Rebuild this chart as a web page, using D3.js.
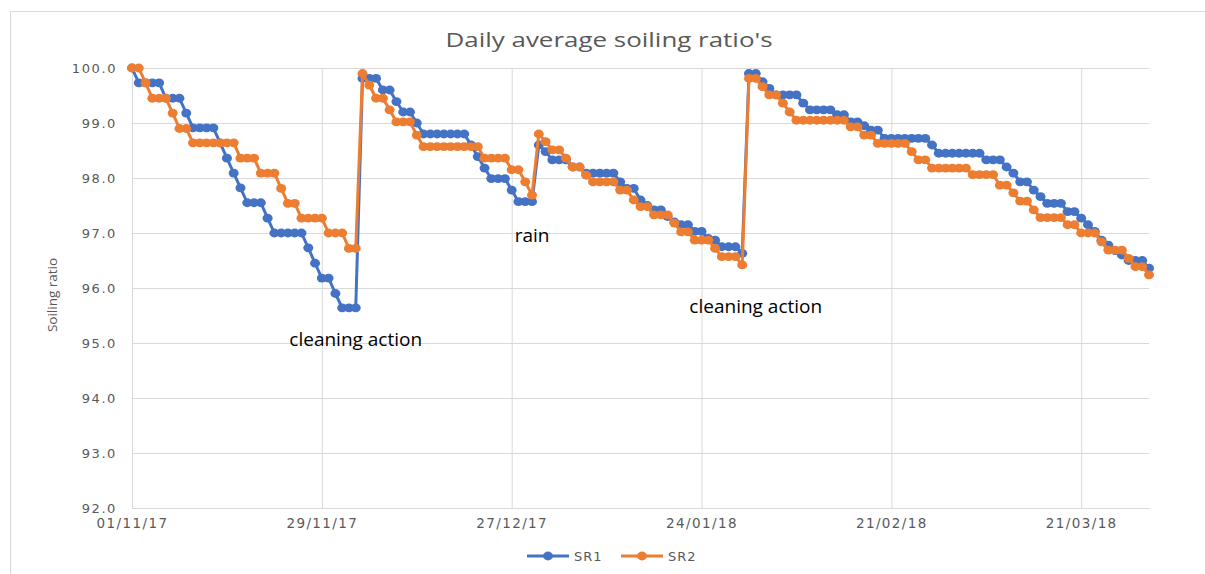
<!DOCTYPE html>
<html>
<head>
<meta charset="utf-8">
<script src="https://cdn.jsdelivr.net/npm/d3@7"></script>
<style>
  body { margin: 0; background: #fff; }
  svg { display: block; }
</style>
</head>
<body>
<div id="chart"></div>
<script>
// daily values, 01/11/17 .. 31/03/18 (151 days)
var startDate = "2017-11-01";

var sr1 = [
  100.0, 99.73, 99.73, 99.73, 99.73, 99.45, 99.45, 99.45, 99.18, 98.91,
  98.91, 98.91, 98.91, 98.64, 98.36, 98.09, 97.82, 97.55, 97.55, 97.55,
  97.27, 97.0, 97.0, 97.0, 97.0, 97.0, 96.73, 96.45, 96.18, 96.18,
  95.9, 95.64, 95.64, 95.64,
  99.81, 99.81, 99.81, 99.6, 99.6, 99.39, 99.2, 99.2, 99.0, 98.8,
  98.8, 98.8, 98.8, 98.8, 98.8, 98.8, 98.6, 98.39, 98.18, 97.99,
  97.99, 97.99, 97.78, 97.57, 97.57, 97.57,
  98.6, 98.48, 98.33, 98.33, 98.33, 98.2, 98.2, 98.09, 98.09, 98.09,
  98.09, 98.09, 97.93, 97.81, 97.81, 97.6, 97.5, 97.42, 97.42, 97.3,
  97.2, 97.15, 97.15, 97.03, 97.03, 96.9, 96.87, 96.75, 96.75, 96.75,
  96.63,
  99.9, 99.9, 99.75, 99.63, 99.51, 99.51, 99.51, 99.51, 99.36, 99.24,
  99.24, 99.24, 99.24, 99.15, 99.15, 99.02, 99.02, 98.95, 98.87, 98.87,
  98.72, 98.72, 98.72, 98.72, 98.72, 98.72, 98.72, 98.6, 98.45, 98.45,
  98.45, 98.45, 98.45, 98.45, 98.45, 98.33, 98.33, 98.33, 98.2, 98.09,
  97.93, 97.93, 97.78, 97.66, 97.54, 97.54, 97.54, 97.39, 97.39, 97.27,
  97.15, 97.03, 96.87, 96.78, 96.68, 96.6, 96.5, 96.5, 96.5, 96.36
];

var sr2 = [
  100.0, 100.0, 99.73, 99.45, 99.45, 99.45, 99.18, 98.9, 98.9, 98.64,
  98.64, 98.64, 98.64, 98.64, 98.64, 98.64, 98.36, 98.36, 98.36, 98.09,
  98.09, 98.09, 97.81, 97.54, 97.54, 97.27, 97.27, 97.27, 97.27, 97.0,
  97.0, 97.0, 96.72, 96.72,
  99.9, 99.69, 99.45, 99.45, 99.24, 99.02, 99.02, 99.02, 98.78, 98.57,
  98.57, 98.57, 98.57, 98.57, 98.57, 98.57, 98.57, 98.57, 98.36, 98.36,
  98.36, 98.36, 98.15, 98.15, 97.93, 97.69,
  98.8, 98.66, 98.51, 98.51, 98.36, 98.2, 98.2, 98.05, 97.93, 97.93,
  97.93, 97.93, 97.78, 97.78, 97.6, 97.48, 97.48, 97.33, 97.33, 97.33,
  97.18, 97.02, 97.02, 96.87, 96.87, 96.87, 96.72, 96.57, 96.57, 96.57,
  96.42,
  99.81, 99.81, 99.66, 99.51, 99.51, 99.36, 99.2, 99.05, 99.05, 99.05,
  99.05, 99.05, 99.05, 99.05, 99.05, 98.93, 98.93, 98.78, 98.78, 98.63,
  98.63, 98.63, 98.63, 98.63, 98.48, 98.33, 98.33, 98.18, 98.18, 98.18,
  98.18, 98.18, 98.18, 98.06, 98.06, 98.06, 98.06, 97.87, 97.87, 97.73,
  97.58, 97.58, 97.42, 97.28, 97.28, 97.28, 97.28, 97.15, 97.15, 97.0,
  97.0, 97.0, 96.84, 96.69, 96.69, 96.69, 96.54, 96.39, 96.39, 96.24
];

var seriesNames = ["SR1", "SR2"];
var seriesColors = ["#4472C4", "#ED7D31"];

var xTickDates = ["2017-11-01", "2017-11-29", "2017-12-27", "2018-01-24", "2018-02-21", "2018-03-21"];
var yTicks = [92, 93, 94, 95, 96, 97, 98, 99, 100];

var notes = [
  {text: "cleaning action", date: "2017-12-04", value: 95.07},
  {text: "rain", date: "2017-12-30", value: 96.96},
  {text: "cleaning action", date: "2018-02-01", value: 95.67}
];

var width = 1205, height = 574;
var margin = {left: 132, right: 56, top: 68, bottom: 66};

var parse = d3.utcParse("%Y-%m-%d");
var fmt = d3.utcFormat("%d/%m/%y");
var start = parse(startDate);

var svg = d3.select("#chart").append("svg")
  .attr("width", width)
  .attr("height", height);

svg.append("rect")
  .attr("x", 10.5).attr("y", 11.5)
  .attr("width", 1200).attr("height", 570)
  .attr("fill", "#fff")
  .attr("stroke", "#d9d9d9");

var x = d3.scaleUtc()
  .domain([start, d3.utcDay.offset(start, sr1.length - 1)])
  .range([margin.left, width - margin.right]);

var y = d3.scaleLinear()
  .domain([92, 100])
  .range([height - margin.bottom, margin.top]);

// gridlines
svg.append("g")
  .attr("transform", "translate(" + margin.left + ",0)")
  .call(d3.axisLeft(y).tickValues(yTicks).tickSize(-(width - margin.left - margin.right)).tickFormat(""))
  .call(function (g) { g.select(".domain").remove(); })
  .selectAll("line").attr("stroke", "#d9d9d9");

svg.append("g")
  .attr("transform", "translate(0," + margin.top + ")")
  .call(d3.axisBottom(x).tickValues(xTickDates.map(parse)).tickSize(height - margin.top - margin.bottom).tickFormat(""))
  .call(function (g) { g.select(".domain").remove(); })
  .selectAll("line").attr("stroke", "#d9d9d9");

// axis labels
var tickFont = "'DejaVu Sans', sans-serif";

var yAxis = svg.append("g")
  .attr("transform", "translate(" + margin.left + ",0)")
  .call(d3.axisLeft(y).tickValues(yTicks).tickSize(0).tickPadding(15).tickFormat(d3.format(".1f")));
yAxis.select(".domain").remove();
yAxis.selectAll("text")
  .attr("fill", "#595959")
  .style("font-family", tickFont)
  .style("font-size", "13px")
  .style("letter-spacing", "1.6px");

var xAxis = svg.append("g")
  .attr("transform", "translate(0," + (height - margin.bottom) + ")")
  .call(d3.axisBottom(x).tickValues(xTickDates.map(parse)).tickSize(0).tickPadding(10).tickFormat(fmt));
xAxis.select(".domain").attr("stroke", "#d9d9d9");
xAxis.selectAll("text")
  .attr("fill", "#595959")
  .style("font-family", tickFont)
  .style("font-size", "13.5px")
  .style("letter-spacing", "1.4px");

svg.append("text")
  .attr("transform", "translate(57," + 295 + ") rotate(-90)")
  .attr("text-anchor", "middle")
  .attr("fill", "#595959")
  .style("font-family", "'Open Sans', sans-serif")
  .style("font-size", "13.5px")
  .text("Soiling ratio");

svg.append("text")
  .attr("transform", "translate(609,47) scale(1.33,1)")
  .attr("text-anchor", "middle")
  .attr("fill", "#595959")
  .style("font-family", "'Open Sans', sans-serif")
  .style("font-size", "19.5px")
  .text("Daily average soiling ratio's");

// series
var line = d3.line()
  .x(function (d, i) { return x(d3.utcDay.offset(start, i)); })
  .y(function (d) { return y(d); });

[sr1, sr2].forEach(function (vals, k) {
  var g = svg.append("g");
  g.append("path")
    .datum(vals)
    .attr("d", line)
    .attr("fill", "none")
    .attr("stroke", seriesColors[k])
    .attr("stroke-width", 3)
    .attr("stroke-linejoin", "round");
  g.selectAll("ellipse")
    .data(vals)
    .enter().append("ellipse")
    .attr("cx", function (d, i) { return x(d3.utcDay.offset(start, i)); })
    .attr("cy", function (d) { return y(d); })
    .attr("rx", 5)
    .attr("ry", 4.4)
    .attr("fill", seriesColors[k]);
});

// annotations
svg.selectAll(".note")
  .data(notes)
  .enter().append("text")
  .attr("class", "note")
  .attr("x", function (d) { return x(parse(d.date)); })
  .attr("y", function (d) { return y(d.value); })
  .attr("dy", "0.35em")
  .attr("text-anchor", "middle")
  .attr("fill", "#000")
  .style("font-family", "'Open Sans', sans-serif")
  .style("font-size", "19px")
  .text(function (d) { return d.text; });

// legend
var legend = svg.append("g").attr("transform", "translate(0,556)");
var legendX = [527, 621];
seriesNames.forEach(function (name, k) {
  var lg = legend.append("g").attr("transform", "translate(" + legendX[k] + ",0)");
  lg.append("line").attr("x1", 0).attr("x2", 42).attr("y1", 0).attr("y2", 0)
    .attr("stroke", seriesColors[k]).attr("stroke-width", 3);
  lg.append("ellipse").attr("cx", 21).attr("cy", 0).attr("rx", 5).attr("ry", 4.4).attr("fill", seriesColors[k]);
  lg.append("text").attr("x", 47).attr("y", 0).attr("dy", "0.35em")
    .attr("fill", "#595959")
    .style("font-family", tickFont)
    .style("font-size", "13px")
    .style("letter-spacing", "1px")
    .text(name);
});
</script>
</body>
</html>
